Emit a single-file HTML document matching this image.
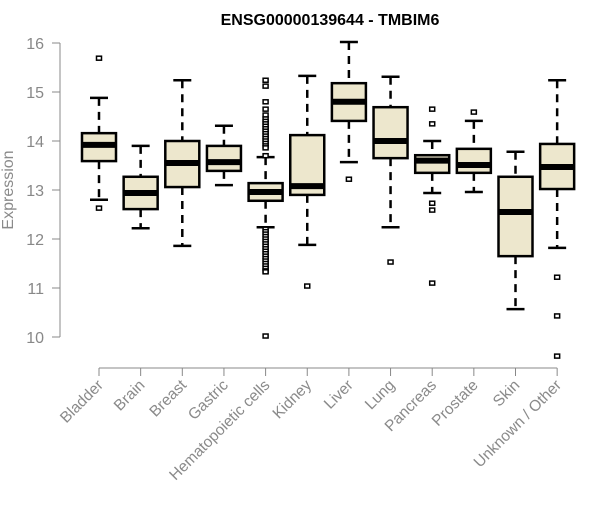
<!DOCTYPE html>
<html><head><meta charset="utf-8"><style>
body{margin:0;background:#fff;}
svg{font-family:"Liberation Sans",Arial,sans-serif;}
</style></head><body>
<svg id="chart" width="600" height="500" xmlns="http://www.w3.org/2000/svg">
<text x="330" y="25" text-anchor="middle" font-size="16" font-weight="bold">ENSG00000139644 - TMBIM6</text>
<text transform="translate(13,190) rotate(-90)" text-anchor="middle" font-size="16" fill="#8a8a8a">Expression</text>
<g id="axes"></g><g id="boxes"></g>
</svg>
<script>
const categories=["Bladder","Brain","Breast","Gastric","Hematopoietic cells","Kidney","Liver","Lung","Pancreas","Prostate","Skin","Unknown / Other"];
const whiskLow=[12.80,12.22,11.86,13.10,12.24,11.88,13.57,12.24,12.94,12.96,10.57,11.82];
const q1=[13.59,12.61,13.06,13.39,12.78,12.90,14.41,13.65,13.35,13.35,11.65,13.02];
const medians=[13.92,12.94,13.55,13.57,12.96,13.08,14.80,14.00,13.60,13.51,12.55,13.47];
const q3=[14.16,13.27,14.00,13.90,13.14,14.12,15.18,14.69,13.71,13.84,13.27,13.94];
const whiskHigh=[14.88,13.90,15.24,14.31,13.67,15.33,16.02,15.31,14.00,14.41,13.78,15.24];
const outliers=[[15.69,12.63],[],[],[],[15.24,15.12,14.8,14.65,14.53,14.45,14.4,14.35,14.3,14.25,14.2,14.15,14.1,14.05,14.0,13.95,13.9,13.86,13.7,12.2,12.15,12.1,12.05,12.0,11.95,11.9,11.85,11.8,11.75,11.7,11.65,11.6,11.55,11.5,11.45,11.4,11.35,11.33,10.02],[11.04],[13.22],[11.53],[14.65,14.35,12.73,12.59,11.10],[14.59],[],[11.22,10.43,9.61]];
const yTicks=[10,11,12,13,14,15,16];
const NS="http://www.w3.org/2000/svg";
const y=v=>337-(v-10)*49;
const x=i=>99+i*41.65;
function mk(tag,attrs,parent){const e=document.createElementNS(NS,tag);for(const k in attrs)e.setAttribute(k,attrs[k]);parent.appendChild(e);return e;}
const ax=document.getElementById('axes'),bx=document.getElementById('boxes');
mk('line',{x1:60,x2:60,y1:y(16),y2:y(10),stroke:'#888'},ax);
yTicks.forEach(t=>{
  const l=mk('line',{x1:52,x2:60,y1:y(t),y2:y(t),stroke:'#888'},ax);
  
  
  const tx=mk('text',{x:44,y:y(t)+6,'text-anchor':'end','font-size':16,fill:'#888'},ax);
  
  
  tx.textContent=t;
});
mk('line',{x1:x(0),x2:x(categories.length-1),y1:368,y2:368,stroke:'#888'},ax);
categories.forEach((c,i)=>{
  const cx=x(i);
  mk('line',{x1:cx,x2:cx,y1:368,y2:376,stroke:'#888'},ax);
  const t=mk('text',{transform:`translate(${cx+5},${386}) rotate(-45)`,'text-anchor':'end','font-size':15.5,fill:'#8a8a8a'},ax);
  
  
  t.textContent=c;
  const g=mk('g',{},bx);
  
  
  const hw=17;
  mk('line',{x1:cx,x2:cx,y1:y(whiskHigh[i]),y2:y(q3[i]),stroke:'#000','stroke-width':2.5,'stroke-dasharray':'8,6'},g);
  mk('line',{x1:cx,x2:cx,y1:y(q1[i]),y2:y(whiskLow[i]),stroke:'#000','stroke-width':2.5,'stroke-dasharray':'8,6'},g);
  mk('line',{x1:cx-9,x2:cx+9,y1:y(whiskHigh[i]),y2:y(whiskHigh[i]),stroke:'#000','stroke-width':2.5},g);
  mk('line',{x1:cx-9,x2:cx+9,y1:y(whiskLow[i]),y2:y(whiskLow[i]),stroke:'#000','stroke-width':2.5},g);
  mk('rect',{x:cx-hw,y:y(q3[i]),width:2*hw,height:y(q1[i])-y(q3[i]),fill:'#ede7cd',stroke:'#000','stroke-width':2.5},g);
  mk('line',{x1:cx-hw,x2:cx+hw,y1:y(medians[i]),y2:y(medians[i]),stroke:'#000','stroke-width':6},g);
  outliers[i].forEach(v=>{
    const r=mk('rect',{x:cx-2.5,y:y(v)-2,width:5,height:4,fill:'#fff',stroke:'#000','stroke-width':1.5},g);
    
    
  });
});
</script>
</body></html>
